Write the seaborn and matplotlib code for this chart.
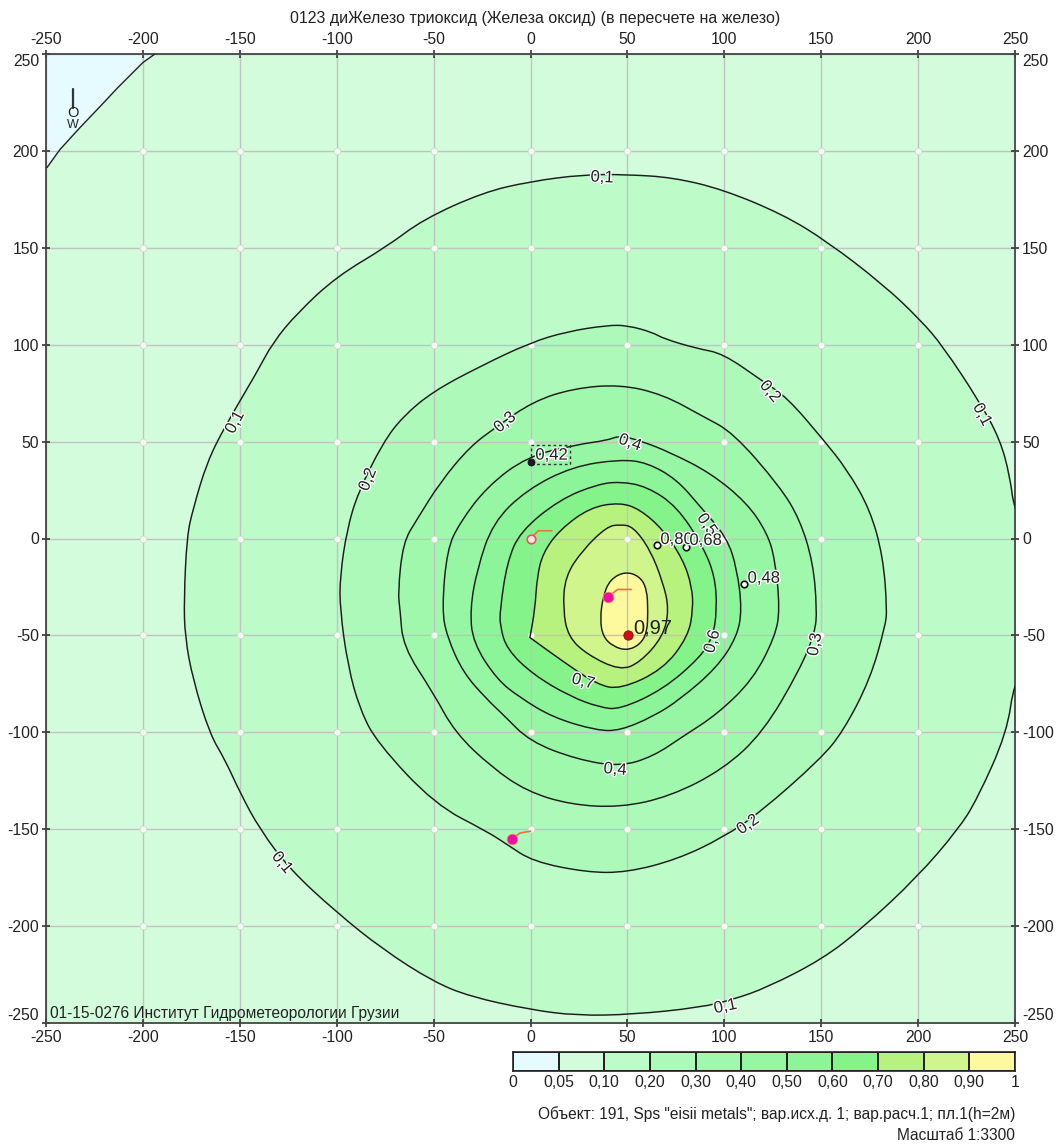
import matplotlib
matplotlib.use("Agg")
import matplotlib.pyplot as plt
import matplotlib.patheffects as pe
from matplotlib.colors import ListedColormap
from matplotlib.patches import PathPatch, Rectangle
from matplotlib.path import Path
import seaborn as sns

# contour lines, in metres from the centre
x005 = [-249.5, -242.8, -232.5, -222.1, -212.9, -200, -193.8]
y005 = [191.4, 200.7, 212, 222.9, 232.7, 245.6, 250]

x01 = [-178.8, -177.3, -174.2, -167, -157.7, -141.2, -133, -120.1, -100, -74, -55.5, -24.5, -0.3, 27.1, 49.8, 73.5, 99.3, 130.3, 153, 181.9, 201, 212.9, 231.9, 242.3, 247.4, 249.5, 258, 262, 258, 249.5, 245.9, 230.4, 220.6, 199.4, 171.6, 150.4, 122, 104.5, 87.5, 52.9, 24, -0.3, -31.2, -50.3, -76.1, -100, -124.1, -139.6, -149.9, -157.7, -165.4, -174.2, -178.3]
y01 = [-31.5, 1, 15, 39.2, 57.8, 85.7, 101.1, 116.6, 135.2, 150.7, 164.6, 178.6, 184.2, 187.8, 187.8, 186.3, 180.1, 167.2, 153.3, 131.1, 113, 99.1, 70.2, 51.1, 32, 15, 0, -35, -65, -73.8, -100.1, -134.7, -150.2, -174.9, -200.8, -217.2, -231.7, -237.9, -242, -245.6, -246.2, -243.1, -236.4, -228.6, -212.1, -193, -170.8, -150.2, -131.1, -114, -101.1, -72.8, -50.6]

x02 = [-98.3, -98.3, -94.7, -89, -76.1, -65.8, -50.3, -26.1, -0.3, 18.8, 39.5, 49.8, 63.2, 68.4, 85.9, 99.3, 120, 132.4, 151, 163.3, 175.2, 181.9, 184, 183, 175.2, 161.3, 149.4, 118.4, 99.3, 75.6, 49.8, 29.2, 1.3, -12.1, -22.4, -49.3, -79.2, -88, -94.2]
y02 = [-36.6, -19.6, 4.6, 23.7, 49.5, 63, 75.9, 88.8, 101, 106.8, 110, 110, 106.3, 103.2, 98, 95.5, 81, 72.8, 51.1, 35.6, 15, -9.3, -36.6, -45.4, -72.8, -99.6, -114, -141.4, -154.3, -165.6, -172.3, -172.3, -166.7, -157.9, -151.2, -137.3, -105.3, -88.2, -66]

x03 = [-67.3, -68.4, -65.8, -58.6, -46.7, -31.2, -17.3, 1.3, 21.9, 46.2, 68.4, 89, 104.5, 128.7, 139, 145.8, 147.8, 146.8, 139, 120, 99.3, 72, 46.2, 20.4, -1.8, -19.9, -39, -50.3, -65.8]
y03 = [-36.6, -27.9, -2.1, 9.8, 28.9, 47.5, 57.8, 70.7, 77.4, 79.5, 74.3, 63, 54.7, 26.8, 9.8, -12.4, -36.6, -48.5, -67.6, -100.1, -119.2, -133.1, -138.8, -137.3, -130.5, -118.2, -100.1, -79.5, -55.7]

x04 = [-45.7, -43.1, -36.4, -22.4, -1.8, 24, 39.5, 46.2, 58, 72, 92.6, 111.5, 122, 126.2, 128.7, 126.2, 114.8, 96.2, 78.7, 63.2, 46.2, 24, -0.3, -14.2, -22.4, -34.8, -43.1]
y04 = [-36.6, -5.7, 8.3, 26.8, 42.3, 48.5, 50.6, 53.2, 50, 44.4, 34, 18.6, 3.1, -10.8, -36.6, -50.6, -72.8, -90.8, -102.1, -112.5, -117.7, -114, -104.8, -90.8, -83.1, -69.2, -50.6]

x05 = [-31.2, -27.6, -19.4, -1.8, 21.9, 46.2, 60.1, 75.6, 87.5, 101.4, 106.6, 109.1, 106.6, 96.2, 77.1, 63.2, 46.2, 34.3, 11.6, -5.4, -17.3, -29.7]
y05 = [-36.6, -16, 8.3, 25.3, 37.2, 40.8, 39.2, 30.4, 16.5, 0.5, -16, -36.6, -50.6, -66.6, -83.1, -91.9, -99.1, -99.1, -92.4, -82.1, -72.8, -53.7]

x06 = [-15.7, -12.1, -5.4, 15.2, 34.3, 46.2, 60.1, 75.6, 89, 95.2, 96.2, 94.2, 87.5, 68.4, 46.2, 35.9, 20.4, 1.3, -12.1, -15.7]
y06 = [-36.6, -12.4, 3.6, 20.2, 27.9, 29.4, 26.8, 16.5, -4.1, -19.6, -36.6, -50.6, -61.4, -77.9, -88.2, -87.2, -81.5, -70.2, -57.3, -45.4]

# the 0.7 line has a sharp corner at (0, -50), hence the repeated point
x07 = [2.3, 3.4, 6.5, 15.2, 30.7, 46.2, 56.5, 68.4, 78.7, 83.3, 83.9, 81.3, 68.4, 46.2, 34.3, 16.8, -0.3, -0.3]
y07 = [-36.6, -19.6, -7.2, 4.6, 16, 18.6, 15, 4.6, -10.8, -24.8, -36.6, -50.6, -67.6, -77.9, -75.3, -63.5, -51.1, -51.1]

x08 = [16.8, 17.8, 27.1, 39.5, 46.2, 52.9, 61.7, 68.4, 71.5, 68.4, 56.5, 46.2, 29.2, 19.4]
y08 = [-36.6, -19.6, -5.7, 6.2, 7.2, 6.2, -5.7, -22.7, -36.6, -50.6, -64, -68.1, -59.9, -50.6]

x09 = [48.8, 56.5, 60.1, 60.6, 60.1, 56.5, 49.8, 42.6, 37.4, 35.9, 37.4, 41]
y09 = [-17, -19.6, -26.3, -38.2, -48.5, -54.7, -57.8, -55.7, -50.6, -41.8, -29.9, -21.2]

# legend
band_labels = ["0", "0,05", "0,10", "0,20", "0,30", "0,40", "0,50", "0,60", "0,70", "0,80", "0,90", "1"]
band_colors = ["#e6fbff", "#d2fcdc", "#bdfbc8", "#acf9b9", "#a0f8ac", "#96f6a4", "#8cf59a", "#84f48a", "#b8f27e", "#d0f58c", "#fdf99d"]

axis_ticks = [-250, -200, -150, -100, -50, 0, 50, 100, 150, 200, 250]
grid_ticks = [-200, -150, -100, -50, 0, 50, 100, 150, 200]

# contour captions: text, x, y, angle
line_labels = [
    ("0,1", 36.9, 186.3, -3), ("0,1", -152.5, 59.9, 62), ("0,1", 233, 64, -62),
    ("0,1", -128.2, -167.2, -50), ("0,1", 100.5, -241.5, 12),
    ("0,2", -83.9, 30.4, 68), ("0,2", 123.6, 75.9, -50), ("0,2", 112.2, -147.6, 35),
    ("0,3", -13.2, 59.9, 40), ("0,3", 146.8, -54.7, 80),
    ("0,4", 51.3, 49.5, -20), ("0,4", 43.6, -119.2, -5),
    ("0,5", 91, 7.2, -55), ("0,6", 93.8, -53.2, 75), ("0,7", 27.1, -73.8, -15),
]

# calculation points
max_x, max_y = [50.3], [-50]
source_x, source_y = [40, -9.5], [-30, -155]
white_x, white_y = [65.3, 80.2, 110.2], [-3.1, -4.6, -23.7]
leaders = [([40, 45, 52], [-30, -26.3, -26.3]),
           ([0, 4, 11], [0, 4, 4]),
           ([-9.5, -5.5, 0], [-155, -152, -151])]
point_labels = [("0,42", 2.5, 43), ("0,80", 67, -0.5), ("0,68", 82, -1), ("0,48", 112, -20.5)]


def closed_curve(xs, ys):
    # quadratic curve using the read points as control points
    pts = list(zip(xs, ys))
    mid = lambda a, b: ((a[0] + b[0]) / 2, (a[1] + b[1]) / 2)
    verts = [mid(pts[-1], pts[0])]
    codes = [Path.MOVETO]
    for i, p in enumerate(pts):
        verts += [p, mid(p, pts[(i + 1) % len(pts)])]
        codes += [Path.CURVE3, Path.CURVE3]
    return Path(verts, codes)


sns.set_theme(style="ticks", rc={"axes.axisbelow": "line"})
plt.rcParams["font.family"] = ["Liberation Sans", "DejaVu Sans"]

W, H = 1059, 1146
fig = plt.figure(figsize=(W / 100, H / 100), dpi=100)
ax = fig.add_axes([46 / W, 1 - 1023 / H, 969 / W, 969 / H])
ax.set_xlim(-250, 250)
ax.set_ylim(-250, 250)
ax.set_facecolor(band_colors[1])

# bands from the outside in, then the line on top
ax.fill(x005 + [-250, -250], y005 + [250, 250], color=band_colors[0], lw=0, zorder=1)
sns.lineplot(x=x005, y=y005, sort=False, estimator=None, color="#222222", lw=1, ax=ax, zorder=3)

levels = [(x01, y01, 2), (x02, y02, 3), (x03, y03, 4), (x04, y04, 5), (x05, y05, 6),
          (x06, y06, 7), (x07, y07, 8), (x08, y08, 9), (x09, y09, 10)]
for xs, ys, c in levels:
    curve = closed_curve(xs, ys)
    ax.add_patch(PathPatch(curve, facecolor=band_colors[c], lw=0, zorder=1))
    ax.add_patch(PathPatch(curve, facecolor="none", edgecolor="#1c1c1c", lw=1.05, zorder=3))

ax.grid(True, color="#c0c4c0", lw=1)
gx = [a for a in grid_ticks for b in grid_ticks]
gy = [b for a in grid_ticks for b in grid_ticks]
sns.scatterplot(x=gx, y=gy, s=24, color="#f4f8f2", edgecolor="#c8d0c8", lw=0.4, ax=ax, zorder=2)

ax.set_xticks(axis_ticks)
ax.set_yticks(axis_ticks)
ax.set_xticklabels([str(t) for t in axis_ticks])
ax.set_yticklabels([str(t) for t in axis_ticks])
ax.tick_params(top=True, right=True, labeltop=True, labelright=True, direction="inout",
               length=6, width=1.1, color="#222222", labelsize=11.3, labelcolor="#222222", pad=2)
for t in ax.yaxis.get_major_ticks():
    if t.get_loc() == 250:
        t.label1.set_va("top")
        t.label2.set_va("top")
    if t.get_loc() == -250:
        t.label1.set_va("bottom")
        t.label2.set_va("bottom")
for s in ax.spines.values():
    s.set_color("#444444")
    s.set_linewidth(1.3)

halo = [pe.withStroke(linewidth=2, foreground="white")]
for txt, x, y, rot in line_labels:
    ax.text(x, y, txt, rotation=rot, ha="center", va="center", fontsize=12,
            color="#222222", path_effects=halo, zorder=5, rotation_mode="anchor")

for lx, ly in leaders:
    sns.lineplot(x=lx, y=ly, sort=False, estimator=None, color="#e8743c", lw=1.2, ax=ax, zorder=4)
sns.scatterplot(x=source_x, y=source_y, s=60, color="#ee0fa0", edgecolor="#f7a050", lw=0.5, ax=ax, zorder=6)
sns.scatterplot(x=[0], y=[0], s=38, color="#fbe8e0", edgecolor="#e8506a", lw=1.2, ax=ax, zorder=6)
sns.scatterplot(x=max_x, y=max_y, s=45, color="#d40b20", edgecolor="#701010", lw=0.6, ax=ax, zorder=6)
sns.scatterplot(x=white_x, y=white_y, s=22, color="white", edgecolor="#111111", lw=1.2, ax=ax, zorder=6)
sns.scatterplot(x=[0], y=[39.7], s=26, color="#2a1030", edgecolor="#111111", lw=0.5, ax=ax, zorder=6)

for txt, x, y in point_labels:
    ax.text(x, y, txt, ha="left", va="center", fontsize=12, color="#222222", path_effects=halo, zorder=7)
ax.text(53, -46, "0,97", ha="left", va="center", fontsize=14.5, color="#222222", zorder=7)
ax.add_patch(Rectangle((0, 38.2), 20.4, 10.3, fill=False, ls=(0, (2, 2)), lw=1, ec="#333333", zorder=4))

# north sign
sns.lineplot(x=[-236, -236], y=[232, 222], sort=False, estimator=None, color="#333333", lw=1.6, ax=ax, zorder=4)
ax.text(-236, 219.5, "O", ha="center", va="center", fontsize=10.5, color="#222222", zorder=5)
ax.text(-236, 213.5, "W", ha="center", va="center", fontsize=9, color="#222222", zorder=5)

ax.text(-248, -249, "01-15-0276 Институт Гидрометеорологии Грузии", ha="left", va="bottom",
        fontsize=11.2, color="#222222", zorder=7)

fig.text(535 / W, 1 - 18 / H, "0123 диЖелезо триоксид (Железа оксид) (в пересчете на железо)",
         ha="center", va="center", fontsize=11.5, color="#222222")

# colour scale as a one row heat map
cax = fig.add_axes([513 / W, 1 - 1071 / H, 502 / W, 19 / H])
sns.heatmap([list(range(len(band_colors)))], cmap=ListedColormap(band_colors), cbar=False,
            vmin=-0.5, vmax=len(band_colors) - 0.5, linewidths=1.2, linecolor="#222222", ax=cax)
cax.set_xticks(range(len(band_labels)))
cax.set_xticklabels(band_labels, rotation=0, fontsize=11.3, color="#222222")
cax.set_yticks([])
cax.tick_params(axis="x", length=0, pad=3)
for s in cax.spines.values():
    s.set_visible(True)
    s.set_color("#222222")
    s.set_linewidth(1.2)

fig.text(1015 / W, 1 - 1114 / H, 'Объект: 191, Sps "eisii metals"; вар.исх.д. 1; вар.расч.1; пл.1(h=2м)',
         ha="right", va="center", fontsize=11.2, color="#222222")
fig.text(1015 / W, 1 - 1136 / H, "Масштаб 1:3300", ha="right", va="center", fontsize=11.2, color="#222222")

fig.savefig("out.png", dpi=100)
